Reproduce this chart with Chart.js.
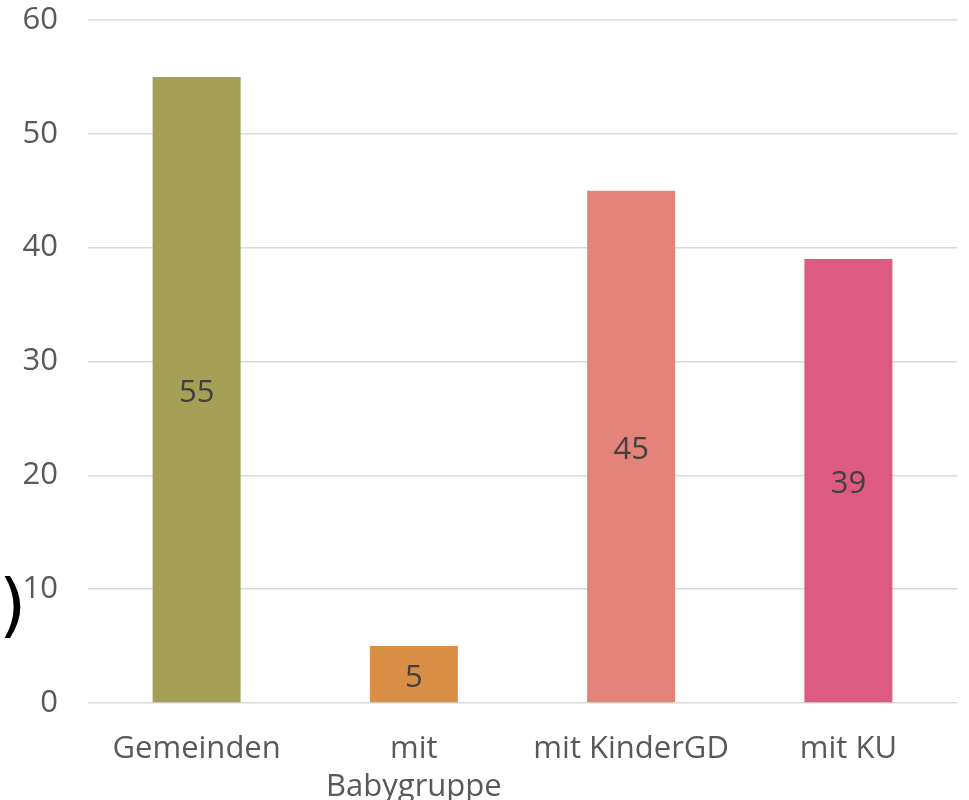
<!DOCTYPE html>
<html>
<head>
<meta charset="utf-8">
<script src="https://cdn.jsdelivr.net/npm/chart.js@4/dist/chart.umd.min.js"></script>
<style>
    html, body { margin: 0; padding: 0; background: #ffffff; }
    #wrap { position: relative; width: 969px; height: 800px; }
    #BarChart { display: block; }
    #clipped { position: absolute; left: -1px; top: 570px; font-family: "DejaVu Sans", sans-serif; font-size: 70px; color: #000000; line-height: 1; }
</style>
</head>
<body>
<div id="wrap">
    <canvas id="BarChart" width="969" height="800"></canvas>
    <span id="clipped">)</span>
</div>
<script>
// chart values
const categories = ["Gemeinden", ["mit", "Babygruppe"], "mit KinderGD", "mit KU"];
const counts = [55, 5, 45, 39];
const barColors = ["#A5A055", "#D98E45", "#E4837A", "#DD5A82"];
const yTicks = [0, 10, 20, 30, 40, 50, 60];

const fontFamily = "'Open Sans', sans-serif";

/**
 * Writes the value of each bar in the middle of the bar
 */
const barValueLabels = {
    id: "barValueLabels",
    afterDatasetsDraw(chart) {
        let ctx = chart.ctx;
        let meta = chart.getDatasetMeta(0);
        ctx.save();
        ctx.font = "31px " + fontFamily;
        ctx.fillStyle = "#404040";
        ctx.textAlign = "center";
        ctx.textBaseline = "middle";
        for (let i = 0; i < meta.data.length; i++) {
            let bar = meta.data[i];
            ctx.fillText(String(counts[i]), bar.x, (bar.y + bar.base) / 2 + 4);
        }
        ctx.restore();
    }
};

new Chart(document.getElementById("BarChart"), {
    type: "bar",
    data: {
        labels: categories,
        datasets: [{
            data: counts,
            backgroundColor: barColors,
            borderWidth: 0,
            barPercentage: 0.405,
            categoryPercentage: 1
        }]
    },
    options: {
        responsive: false,
        animation: false,
        layout: { padding: { top: 20, right: 12, left: 0, bottom: 0 } },
        plugins: {
            legend: { display: false },
            tooltip: { enabled: false }
        },
        scales: {
            x: {
                grid: { display: false },
                border: { display: false },
                ticks: {
                    color: "#595959",
                    font: { family: fontFamily, size: 31, lineHeight: 1.22 },
                    padding: 19,
                    maxRotation: 0,
                    autoSkip: false
                },
                afterFit: function (scale) {
                    scale.height = 97;
                    scale.paddingLeft = 0;
                    scale.paddingRight = 0;
                }
            },
            y: {
                min: 0,
                max: 60,
                afterBuildTicks: function (scale) {
                    scale.ticks = yTicks.map(v => ({ value: v }));
                },
                grid: { color: "#D9D9D9", lineWidth: 1.5, drawTicks: false },
                border: { display: false },
                ticks: {
                    color: "#595959",
                    font: { family: fontFamily, size: 31 },
                    padding: 30
                },
                afterFit: function (scale) {
                    scale.width = 88;
                    scale.paddingTop = 0;
                    scale.paddingBottom = 0;
                }
            }
        }
    },
    plugins: [barValueLabels]
});
</script>
</body>
</html>
